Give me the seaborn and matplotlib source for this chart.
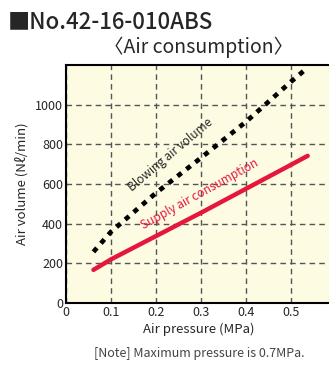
import seaborn as sns
import matplotlib.pyplot as plt
import pandas as pd

# 読み取った値
blow_x = [0.061, 0.1, 0.2, 0.3, 0.4, 0.5, 0.537]
blow_y = [258, 359, 555, 732, 914, 1116, 1187]
supply_x = [0.061, 0.1, 0.3, 0.5, 0.537]
supply_y = [167, 220, 455, 697, 742]
xticks = [0, 0.1, 0.2, 0.3, 0.4, 0.5]
yticks = [0, 200, 400, 600, 800, 1000]

sns.set_style('white')
plt.rcParams['font.family'] = ['Noto Sans CJK JP', 'DejaVu Sans']

blow = pd.DataFrame({'x': blow_x, 'y': blow_y})
supply = pd.DataFrame({'x': supply_x, 'y': supply_y})

fig = plt.figure(figsize=(3.29, 3.65), dpi=100)
ax = fig.add_axes([66/329, 1-303/365, 1-66/329+0.01, (303-65)/365])
ax.set_facecolor('#FDFBE2')

sns.lineplot(data=blow, x='x', y='y', ax=ax, color='black', lw=3.4, linestyle=(0, (1.1, 1.3)))
sns.lineplot(data=supply, x='x', y='y', ax=ax, color='#E5173C', lw=3.2)

ax.set_xlim(0, (329-66)/444.5)
ax.set_ylim(0, 1200)
ax.set_xticks(xticks)
ax.set_yticks(yticks)
ax.set_xticklabels(['0', '0.1', '0.2', '0.3', '0.4', '0.5'], fontsize=9)
ax.set_yticklabels([str(v) for v in yticks], fontsize=9)
ax.tick_params(length=0, pad=2)
ax.grid(True, color='#555555', linestyle=(0, (4, 3)), lw=1)
ax.set_axisbelow(True)
for s in ax.spines.values():
    s.set_color('black')
    s.set_linewidth(1.5)
ax.spines['right'].set_visible(False)

ax.set_xlabel('Air pressure (MPa)', fontsize=9.5, labelpad=3)
ax.set_ylabel('Air volume (Nℓ/min)', fontsize=9.5, labelpad=5)

ax.text(0.232, 745, 'Blowing air volume', rotation=40, fontsize=8.5,
        ha='center', va='center')
ax.text(0.296, 548, 'Supply air consumption', rotation=29, fontsize=8.5,
        color='#E5173C', ha='center', va='center')

fig.text(8/329, 1-22/365, '■No.42-16-010ABS', fontsize=16, fontweight='medium',
         va='center', ha='left')
fig.text(199/329, 1-47/365, '〈Air consumption〉', fontsize=14,
         va='center', ha='center')
fig.text(199/329, 1-353/365, '[Note] Maximum pressure is 0.7MPa.', fontsize=9,
         color='#444444', va='center', ha='center')

plt.savefig('out.png', dpi=100)
